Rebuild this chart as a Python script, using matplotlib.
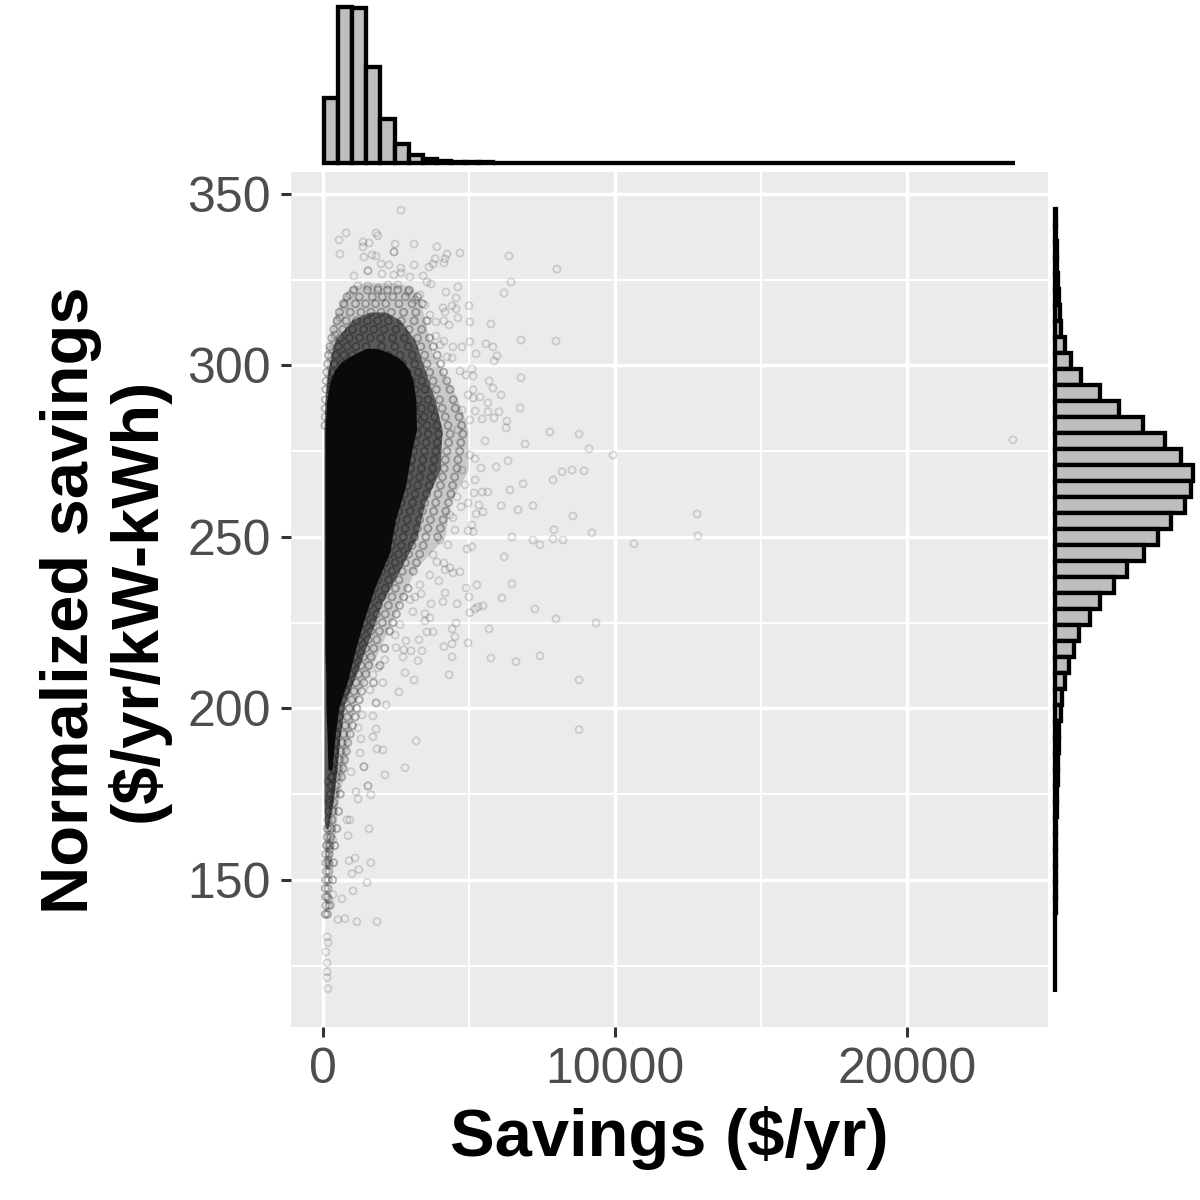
"""
Savings vs. normalized savings, scatter with marginal histograms.

Run: python plot.py
Outputs: out.png
"""

import matplotlib
matplotlib.use("Agg")
import matplotlib.pyplot as plt
import numpy as np

plt.rcParams["font.family"] = ["Liberation Sans", "DejaVu Sans"]

# ---------------------------------------------------------------------------
# Data
# ---------------------------------------------------------------------------
# Sparse points that can be told apart
point_x = [
    23630, 12810, 12840, 10650, 9930, 9110, 8770, 7770, 8010, 7980, 9210, 9350, 8770, 8770, 7980,
    7430, 6610, 7260, 8560, 8940, 8530, 8190, 7880, 7910, 7190, 7430, 7880, 8220, 6780, 6780,
    6370, 6440, 6200, 6100, 6750, 6300, 6270, 6920, 6340, 6850, 6400, 6100, 6680, 7190, 6470,
    6200, 6470, 6130, 5690, 5820, 5650, 5650, 6030, 5860, 5450, 5750, 5580, 5820, 5030, 5240,
    5960, 5860, 5100, 5140, 4690, 4900, 5140, 5140, 5380, 5210, 5550, 5930, 5410, 5210, 5650,
    5450, 5210, 5170, 5480, 5340, 5240, 4970, 4730, 4590, 4450, 5100, 4970, 5140, 5100, 4930,
    3770, 4140, 3900, 4350, 4450, 4690, 4180, 3970, 5270, 4900, 5000, 4180, 4110, 4590, 3700,
    3360, 3150, 5480, 5310, 5210, 5030, 3660, 3490, 3490, 4560, 3080, 4420, 5690, 3560, 3770,
    4520, 3290, 2840, 4970, 4420, 4140, 2500, 2770, 3010, 3390, 2740, 4420, 3250, 5750, 2810,
    4320, 3120, 1710, 2050, 2600, 1820, 1820, 2160, 1710, 1820, 3190, 1710, 1300, 1850, 2050,
    1270, 1400, 1400, 2810, 2120, 960, 1540, 1540, 1130, 1640, 1200, 820, 920, 1580, 860,
    1100, 890, 1640, 1230, 990, 1510, 1030, 650, 750, 1160, 1850, 510, 170, 140, 140,
    140, 100, 170, 140, 2670, 790, 550, 580, 1820, 1880, 1370, 1580, 1370, 2470, 3120,
    3900, 2430, 2430, 1680, 1820, 1400, 4250, 4690, 3840, 4180, 4140, 1990, 2260, 3120, 3770,
    3630, 2670, 1540, 1540, 1060, 2020, 2430, 2670, 2980, 3430, 3560, 3700, 4620, 4210, 4560,
    5000, 4110, 4560, 4180, 4420, 4620, 4140, 5030, 4320, 4140, 3870, 4450, 4760, 4250, 4420,
    1200, 1540, 1880, 2230, 2570, 2910, 3320, 920, 750, 580, 410, 240, 3660, 3870, 4010,
    3150, 3490, 5030, 4970, 4760, 4620, 5030, 4760, 4860, 4350, 4520, 4280, 4010, 3660, 3320,
    2980, 2640, 2470, 2120, 1880, 1610, 1340, 1200, 210, 270, 340, 170, 240, 140, 240,
    340, 210, 310, 410, 170, 270, 380,
]
point_y = [
    278.3, 256.7, 250.3, 248.0, 273.9, 275.7, 280.0, 280.6, 328.1, 307.1, 251.2, 224.9, 208.3, 193.8, 226.1,
    215.3, 213.6, 229.0, 256.1, 269.3, 269.5, 269.0, 266.6, 252.1, 249.1, 247.7, 249.4, 249.1, 296.4, 307.4,
    331.9, 324.3, 321.1, 291.4, 287.6, 283.8, 281.8, 277.1, 272.2, 265.5, 263.7, 259.1, 257.9, 259.1, 250.0,
    244.2, 236.3, 232.2, 295.5, 293.4, 289.1, 286.5, 286.5, 284.7, 284.4, 312.1, 306.3, 305.4, 306.9, 303.4,
    302.8, 301.3, 299.0, 296.9, 298.4, 297.2, 292.9, 290.5, 290.8, 286.7, 278.0, 270.4, 270.1, 272.8, 263.1,
    263.1, 266.6, 262.8, 257.3, 259.3, 256.7, 259.9, 258.8, 261.7, 255.6, 253.5, 251.8, 251.5, 247.1, 246.5,
    244.8, 242.4, 242.7, 241.0, 239.5, 239.8, 240.4, 237.2, 236.0, 235.1, 232.5, 233.7, 231.1, 230.5, 230.5,
    233.4, 232.5, 229.9, 229.6, 229.0, 227.9, 226.4, 227.6, 225.5, 224.9, 228.2, 223.2, 223.2, 222.3, 222.3,
    220.9, 220.0, 219.7, 219.1, 218.8, 218.0, 217.7, 217.1, 216.8, 216.8, 215.0, 215.0, 213.9, 214.7, 210.4,
    209.8, 208.3, 209.8, 207.5, 204.8, 201.6, 201.6, 201.0, 197.8, 194.0, 190.5, 191.7, 191.1, 188.2, 187.9,
    187.0, 183.0, 183.0, 182.7, 180.6, 181.5, 177.4, 177.4, 175.7, 174.8, 173.6, 167.5, 167.5, 164.9, 162.9,
    156.4, 155.6, 155.0, 153.0, 151.8, 149.2, 146.8, 144.5, 138.7, 137.8, 137.8, 138.4, 118.3, 121.5, 123.2,
    125.8, 129.0, 131.7, 133.4, 345.3, 338.6, 336.6, 332.5, 338.6, 337.8, 336.0, 335.7, 334.6, 335.4, 335.4,
    334.6, 333.1, 333.1, 332.2, 331.9, 331.6, 332.5, 332.8, 331.1, 331.1, 329.9, 329.6, 329.3, 329.3, 329.6,
    328.7, 328.4, 327.6, 327.6, 326.1, 326.7, 326.4, 327.0, 325.8, 326.1, 324.3, 323.8, 322.9, 321.4, 319.7,
    317.4, 316.8, 316.5, 315.6, 317.4, 313.9, 313.0, 312.7, 311.8, 307.1, 308.6, 305.4, 305.4, 302.5, 302.2,
    323.2, 323.2, 322.6, 323.5, 323.5, 321.4, 320.6, 320.6, 317.6, 313.9, 308.9, 304.5, 314.7, 312.7, 306.0,
    319.1, 317.6, 284.1, 291.4, 287.0, 281.2, 273.9, 269.5, 265.2, 256.4, 252.0, 247.7, 249.1, 238.9, 236.0,
    231.7, 224.4, 221.4, 214.2, 211.8, 205.4, 198.1, 194.3, 144.2, 142.7, 145.7, 155.9, 154.4, 160.2, 158.8,
    161.7, 173.4, 171.9, 176.3, 178.6, 179.8, 182.1,
]

# Points in the crowded fringe of the cloud, by row (rough reading)
fringe_levels = [
    322, 320, 318, 315.5, 313, 310.5, 308, 305.5, 303, 300.5, 298, 295.5, 293, 290, 287.5, 285, 282.5,
    280, 277.5, 275, 272.5, 270, 267.5, 265, 262.5, 260, 257.5, 255, 252.5, 250, 247.5, 245, 242.5, 240,
    237.5, 235, 232.5, 230, 227.5, 225, 222.5, 220, 217.5, 215, 212.5, 210, 207.5, 205, 202.5, 200,
    197.5, 195, 192.5, 190, 187.5, 185, 182.5, 180, 177.5, 175, 172.5, 170, 167.5, 165, 162.5, 160,
    157.5, 155, 152.5, 150, 147.5, 145, 142.5, 140,
]
fringe_values = [
    [1050, 1520, 1880, 2210, 2560, 2950], [820, 1240, 1690, 2030, 2390, 2820, 3240],
    [700, 1110, 1460, 1800, 2150, 2600, 3050, 3400], [560, 930, 1300, 1640, 1990, 2340, 2760, 3180],
    [480, 790, 1150, 1520, 1870, 2240, 2680, 3120, 3560], [370, 680, 1010, 1390, 1740, 2090, 2500, 2950, 3380],
    [300, 590, 900, 1250, 1620, 1980, 2380, 2790, 3240, 3650], [240, 520, 830, 1130, 1480, 2010, 2460, 2920, 3350, 3780],
    [190, 440, 720, 1010, 2240, 2640, 3060, 3480, 3910], [160, 380, 650, 2380, 2720, 3140, 3560, 4030],
    [130, 330, 2620, 2890, 3260, 3650, 4130], [110, 290, 2790, 3030, 3380, 3770, 4240],
    [100, 270, 2860, 3150, 3490, 3880, 4350], [90, 3010, 3270, 3600, 3990, 4460],
    [80, 3120, 3380, 3710, 4080, 4530], [80, 3190, 3470, 3820, 4190, 4660], [70, 3250, 3560, 3900, 4280, 4750],
    [3240, 3600, 3960, 4350, 4790], [3170, 3530, 3910, 4300, 4720], [3110, 3470, 3860, 4240, 4680],
    [3040, 3420, 3810, 4190, 4620], [3000, 3370, 3760, 4150, 4590], [2960, 3310, 3700, 4090, 4510],
    [2890, 3240, 3640, 4020, 4440], [2790, 3150, 3550, 3940, 4380], [2680, 3070, 3480, 3860, 4300],
    [2590, 2980, 3400, 3790, 4210], [2500, 2880, 3310, 3680, 4110], [2450, 2810, 3230, 3590, 4020],
    [2400, 2750, 3140, 3520, 3930], [2350, 2680, 3050, 3430], [2270, 2590, 2930, 3310], [2130, 2470, 2820, 3200],
    [2010, 2360, 2710, 3090], [1880, 2250, 2600], [1770, 2130, 2480, 2910], [1680, 2020, 2360, 2760],
    [1590, 1910, 2240, 2620], [1490, 1830, 2130, 2510], [1410, 1720, 2030, 2390], [1320, 1640, 1930, 2280],
    [1240, 1540, 1840], [1150, 1460, 1740, 2110], [1080, 1380, 1650], [1000, 1300, 1570, 1950], [930, 1210, 1470],
    [860, 1130, 1400, 1730], [790, 1060, 1320], [700, 980, 1240], [620, 900, 1160], [560, 830, 1100],
    [520, 760, 1010], [480, 700, 930], [440, 650, 850], [400, 610, 800], [370, 560, 740], [340, 520, 690],
    [310, 480, 640], [280, 440], [250, 400, 590], [220, 370], [190, 340, 530], [170, 310], [150, 280, 470],
    [140, 260], [120, 230, 400], [100, 210], [100, 190, 360], [110, 200], [90, 180, 330], [80, 170], [90, 160],
    [100, 210], [80, 150],
]

# The overplotted cloud can't be read point by point, so keep its outline instead
outer_y = [324.1, 322.9, 319.1, 313.3, 303.7, 293.7, 287.0, 281.2, 269.5, 259.9, 250.0, 240.4, 230.8, 220.9, 211.2, 201.6, 191.7, 182.1, 172.5, 162.6, 152.9]
outer_left = [1440, 920, 620, 340, 140, 70, 30, 30, 30, 30, 30, 30, 30, 30, 30, 30, 30, 30, 30, 30, 70]
outer_right = [2470, 3050, 3320, 3490, 3730, 4420, 4760, 4970, 4970, 4350, 4180, 3150, 2640, 2120, 1610, 1100, 920, 750, 510, 410, 200]

mid_y = [315.6, 313.3, 307.4, 298.7, 289.9, 281.2, 269.5, 259.9, 250.0, 240.4, 230.8, 220.9, 211.2, 201.6, 191.7, 182.1, 172.5, 165.0]
mid_left = [1610, 990, 410, 170, 70, 30, 30, 30, 30, 30, 30, 30, 30, 30, 30, 30, 30, 70]
mid_right = [2120, 2640, 3150, 3490, 3840, 4080, 4010, 3490, 3220, 2640, 2020, 1610, 1200, 750, 580, 480, 340, 170]

core_y = [305.0, 303.9, 302.5, 301.0, 298.7, 295.8, 289.9, 281.2, 274.5, 264.6, 255.0, 245.4, 235.4, 225.8, 216.2, 208.3, 200.2, 191.7, 182.1]
core_left = [1500, 1200, 900, 620, 400, 250, 130, 70, 70, 70, 70, 70, 70, 70, 70, 100, 100, 140, 170]
core_right = [1800, 2230, 2530, 2760, 2950, 3080, 3180, 3200, 3020, 2820, 2480, 2280, 1780, 1400, 1080, 850, 540, 410, 310]

# Top histogram (heights only, no axis shown)
savings_counts = [
    6500, 15600, 15500, 9600, 4400, 1900, 800, 400, 250, 150, 100, 70, 40, 25, 15, 0, 0,
    0, 0, 0, 0, 0, 0, 0, 0, 0, 0, 0, 0, 0, 0, 0, 0, 0, 0, 0, 0, 0, 0, 0, 0, 0, 0, 0, 0, 0, 0, 0, 5,
]
savings_bin_start = 34
savings_bin_width = 483

# Right histogram, listed from the highest bin down
normalized_counts = [
    50, 100, 150, 200, 300, 400, 500, 600, 1000, 1600, 2600, 4500, 6400, 8800, 11000, 12600, 13800,
    13600, 13000, 11600, 10300, 8900, 7200, 5900, 4500, 3500, 2400, 1900, 1400, 1000, 700, 600, 400,
    350, 300, 250, 200, 150, 120, 100, 100, 80, 60, 50, 40, 30, 20, 10, 10,
]
normalized_bin_top = 345.7
normalized_bin_height = 4.664

x_major = [0, 10000, 20000]
x_minor = [5000, 15000]
y_major = [150, 200, 250, 300, 350]
y_minor = [125, 175, 225, 275, 325]

# ---------------------------------------------------------------------------
# Layout
# ---------------------------------------------------------------------------
fig = plt.figure(figsize=(12, 12), dpi=100)


def px_axes(left, top, right, bottom):
    return fig.add_axes([left / 1200, 1 - bottom / 1200, (right - left) / 1200, (bottom - top) / 1200])


ax = px_axes(291, 172, 1048, 1027)
ax_top = px_axes(291, 0, 1048, 163)
ax_right = px_axes(1055, 172, 1200, 1027)

xlim = (-1096, 24829)
ylim = (107.1, 356.4)

# ---------------------------------------------------------------------------
# Main panel
# ---------------------------------------------------------------------------
ax.set_facecolor("#EBEBEB")
ax.set_axisbelow(True)
for side in ax.spines.values():
    side.set_visible(False)

ax.set_xticks(x_major)
ax.set_xticks(x_minor, minor=True)
ax.set_yticks(y_major)
ax.set_yticks(y_minor, minor=True)
ax.grid(which="major", color="white", linewidth=2.5)
ax.grid(which="minor", color="white", linewidth=1.4)
ax.tick_params(which="minor", length=0)
ax.tick_params(which="major", length=7.5, width=2.2, color="#333333", labelcolor="#4D4D4D", labelsize=36, pad=7)

fringe_x = [v for row in fringe_values for v in row]
fringe_y = [lvl for lvl, row in zip(fringe_levels, fringe_values) for v in row]

ax.fill_betweenx(outer_y, outer_left, outer_right, color="black", alpha=0.14, linewidth=0)
ax.fill_betweenx(mid_y, mid_left, mid_right, color="black", alpha=0.55, linewidth=0)
ax.scatter(fringe_x, fringe_y, s=26, facecolors="none", edgecolors=(0, 0, 0, 0.28), linewidths=1.4)
ax.fill_betweenx(core_y, core_left, core_right, color="#0A0A0A", linewidth=0)
ax.scatter(point_x, point_y, s=26, facecolors="none", edgecolors=(0, 0, 0, 0.14), linewidths=1.3)

ax.set_xlim(xlim)
ax.set_ylim(ylim)

# ---------------------------------------------------------------------------
# Marginal histograms
# ---------------------------------------------------------------------------
top_lefts = savings_bin_start + savings_bin_width * np.arange(len(savings_counts))
ax_top.bar(top_lefts, savings_counts, width=savings_bin_width, align="edge",
           color="#BEBEBE", edgecolor="black", linewidth=3.1, clip_on=False)
ax_top.set_xlim(xlim)
ax_top.set_ylim(0, 16300)
ax_top.axis("off")

right_tops = normalized_bin_top - normalized_bin_height * np.arange(len(normalized_counts))
ax_right.barh(right_tops, normalized_counts, height=-normalized_bin_height, align="edge",
              color="#BEBEBE", edgecolor="black", linewidth=3.1, clip_on=False)
ax_right.set_xlim(0, 14500)
ax_right.set_ylim(ylim)
ax_right.axis("off")

# ---------------------------------------------------------------------------
# Axis titles
# ---------------------------------------------------------------------------
fig.text(669 / 1200, 1 - 1138 / 1200, "Savings ($/yr)", fontsize=48.2, fontweight="bold",
         ha="center", va="center", color="black")
fig.text(105 / 1200, 1 - 600 / 1200, "Normalized savings\n($/yr/kW-kWh)", fontsize=48.2, fontweight="bold",
         rotation=90, ha="center", va="center", color="black", linespacing=1.06, multialignment="center")

fig.savefig("out.png", dpi=100)
plt.close(fig)
